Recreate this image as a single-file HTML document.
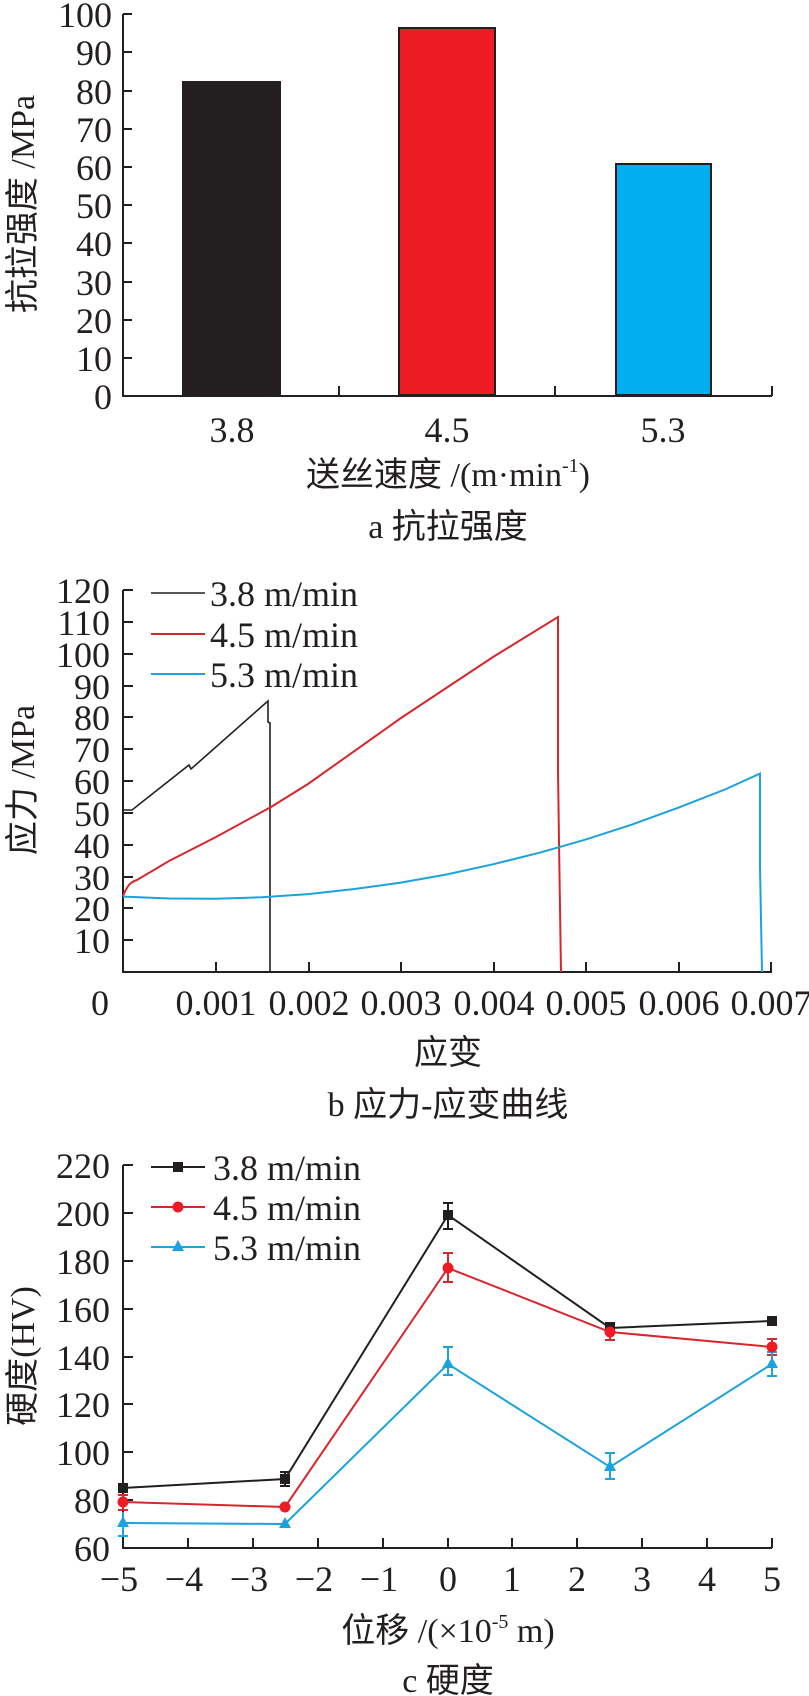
<!DOCTYPE html>
<html><head><meta charset="utf-8"><style>
html,body{margin:0;padding:0;background:#fff}
svg{display:block}
text{font-family:"Liberation Serif","Noto Serif CJK SC",serif;fill:#231f20}
.t{font-size:36px}
.cj{font-family:"Liberation Serif","Noto Sans CJK SC",sans-serif;font-size:34px}
</style></head><body>
<svg width="809" height="1696" viewBox="0 0 809 1696" xmlns="http://www.w3.org/2000/svg">
<g stroke="#231f20" stroke-width="2" fill="none">
<path d="M123,14 V396 H772"/>
<path d="M123,14h9M123,52h9M123,91h9M123,129h9M123,167h9M123,205h9M123,243h9M123,282h9M123,320h9M123,358h9"/>
<path d="M339,396v-10M555,396v-10M772,396v-10"/>
</g>
<rect x="183" y="82" width="97" height="313" fill="#231f20" stroke="#231f20" stroke-width="2"/>
<rect x="399" y="28" width="96" height="367" fill="#ed1c24" stroke="#231f20" stroke-width="2"/>
<rect x="616" y="164" width="95" height="231" fill="#00aeef" stroke="#231f20" stroke-width="2"/>
<g class="t" text-anchor="end">
<text x="112" y="27">100</text><text x="112" y="65">90</text><text x="112" y="104">80</text><text x="112" y="142">70</text><text x="112" y="180">60</text><text x="112" y="218">50</text><text x="112" y="256">40</text><text x="112" y="295">30</text><text x="112" y="333">20</text><text x="112" y="371">10</text><text x="112" y="409">0</text>
</g>
<g class="t" text-anchor="middle">
<text x="232" y="442">3.8</text><text x="447" y="442">4.5</text><text x="663" y="442">5.3</text>
</g>
<text class="cj" x="0" y="0" text-anchor="middle" transform="translate(34,204) rotate(-90)">抗拉强度 /MPa</text>
<text class="cj" x="448" y="486" text-anchor="middle">送丝速度 /(m·min<tspan font-size="20" dy="-14">-1</tspan><tspan dy="14">)</tspan></text>
<text class="cj" x="448" y="538" text-anchor="middle">a 抗拉强度</text>

<g stroke="#231f20" stroke-width="2" fill="none">
<path d="M123,590 V972 H772"/>
<path d="M123,590h10M123,622h10M123,654h10M123,686h10M123,717h10M123,749h10M123,781h10M123,813h10M123,845h10M123,877h10M123,908h10M123,940h10"/>
<path d="M216,972v-10M309,972v-10M401,972v-10M494,972v-10M586,972v-10M679,972v-10M771,972v-10"/>
</g>
<path d="M123,810 L132,810 L189,765 L191,769 L268,701 L268,722 L270,723 L270,972" stroke="#231f20" stroke-width="1.6" fill="none"/>
<path d="M123,896 C128,884 131,882 137,880 L169,861 L216,837 L271,807 L308,784 L401,718 L493,657 L558,617 L558,770 L559,842 L561,972" stroke="#d7262c" stroke-width="2" fill="none"/>
<polyline points="123,896.6 169.3,898.5 215.6,898.7 261.9,897.3 308.2,894.1 354.5,889 400.8,882.6 447.1,874.4 493.4,864.2 539.7,852.7 586,839.4 632.3,824.4 678.6,807.6 724.9,789.5 760,773.6 760,866 762,972" stroke="#1aa3dc" stroke-width="2" fill="none"/>
<g class="t" text-anchor="end">
<text x="110" y="603">120</text><text x="110" y="635">110</text><text x="110" y="667">100</text><text x="110" y="699">90</text><text x="110" y="730">80</text><text x="110" y="762">70</text><text x="110" y="794">60</text><text x="110" y="826">50</text><text x="110" y="858">40</text><text x="110" y="890">30</text><text x="110" y="921">20</text><text x="110" y="953">10</text>
</g>
<g class="t" text-anchor="middle">
<text x="100" y="1015">0</text><text x="216" y="1015">0.001</text><text x="309" y="1015">0.002</text><text x="401" y="1015">0.003</text><text x="494" y="1015">0.004</text><text x="586" y="1015">0.005</text><text x="679" y="1015">0.006</text><text x="771" y="1015">0.007</text>
</g>
<path d="M151,593h54" stroke="#231f20" stroke-width="1.6"/>
<path d="M151,634h54" stroke="#d7262c" stroke-width="2"/>
<path d="M151,674h54" stroke="#1aa3dc" stroke-width="2"/>
<g class="t"><text x="210" y="606">3.8 m/min</text><text x="210" y="647">4.5 m/min</text><text x="210" y="687">5.3 m/min</text></g>
<text class="cj" text-anchor="middle" transform="translate(34,780) rotate(-90)">应力 /MPa</text>
<text class="cj" x="448" y="1064" text-anchor="middle">应变</text>
<text class="cj" x="448" y="1116" text-anchor="middle">b 应力-应变曲线</text>

<g stroke="#231f20" stroke-width="2" fill="none">
<path d="M123,1165 V1548 H772"/>
<path d="M123,1165h10M123,1213h10M123,1261h10M123,1309h10M123,1357h10M123,1404h10M123,1452h10M123,1500h10"/>
<path d="M188,1548v-10M253,1548v-10M318,1548v-10M383,1548v-10M448,1548v-10M512,1548v-10M577,1548v-10M642,1548v-10M707,1548v-10M772,1548v-10"/>
</g>
<g stroke="#231f20" stroke-width="2" fill="none">
<path d="M285,1472v14M280,1472h10M280,1486h10"/>
<path d="M448,1203v26M443,1203h10M443,1229h10"/>
<path d="M610,1323v10M605,1323h10"/>
</g>
<g stroke="#d7262c" stroke-width="2" fill="none">
<path d="M123,1495v15M118,1495h10M118,1510h10"/>
<path d="M448,1253v29M443,1253h10M443,1282h10"/>
<path d="M610,1325v15M605,1340h10"/>
<path d="M772,1339v16M767,1339h10M767,1355h10"/>
</g>
<g stroke="#1aa3dc" stroke-width="2" fill="none">
<path d="M123,1512v24M118,1536h10"/>
<path d="M285,1519v8"/>
<path d="M448,1347v28M443,1347h10M443,1375h10"/>
<path d="M610,1453v26M605,1453h10M605,1479h10"/>
<path d="M772,1352v24M767,1352h10M767,1376h10"/>
</g>
<polyline points="123,1488 285,1479 448,1215 610,1328 772,1321" stroke="#231f20" stroke-width="2" fill="none"/>
<polyline points="123,1502 285,1507 448,1268 610,1332 772,1347" stroke="#d7262c" stroke-width="2" fill="none"/>
<polyline points="123,1523 285,1524 448,1364 610,1467 772,1364" stroke="#1aa3dc" stroke-width="2" fill="none"/>
<g fill="#231f20">
<rect x="118" y="1483" width="10" height="10"/><rect x="280" y="1474" width="10" height="10"/><rect x="443" y="1210" width="10" height="10"/><rect x="605" y="1323" width="10" height="10"/><rect x="767" y="1316" width="10" height="10"/>
</g>
<g fill="#ed1c24">
<circle cx="123" cy="1502" r="5.5"/><circle cx="285" cy="1507" r="5.5"/><circle cx="448" cy="1268" r="5.5"/><circle cx="610" cy="1332" r="5.5"/><circle cx="772" cy="1347" r="5.5"/>
</g>
<g fill="#1aa3dc">
<path d="M123,1516l6,11h-12z"/><path d="M285,1517l6,11h-12z"/><path d="M448,1357l6,11h-12z"/><path d="M610,1460l6,11h-12z"/><path d="M772,1357l6,11h-12z"/>
</g>
<g class="t" text-anchor="end">
<text x="110" y="1178">220</text><text x="110" y="1226">200</text><text x="110" y="1274">180</text><text x="110" y="1322">160</text><text x="110" y="1370">140</text><text x="110" y="1417">120</text><text x="110" y="1465">100</text><text x="110" y="1513">80</text><text x="110" y="1561">60</text>
</g>
<g class="t" text-anchor="middle">
<text x="119" y="1591">−5</text><text x="184" y="1591">−4</text><text x="249" y="1591">−3</text><text x="314" y="1591">−2</text><text x="379" y="1591">−1</text><text x="448" y="1591">0</text><text x="512" y="1591">1</text><text x="577" y="1591">2</text><text x="642" y="1591">3</text><text x="707" y="1591">4</text><text x="772" y="1591">5</text>
</g>
<path d="M151,1167h54" stroke="#231f20" stroke-width="2"/><rect x="173" y="1162" width="10" height="10" fill="#231f20"/>
<path d="M151,1207h54" stroke="#d7262c" stroke-width="2"/><circle cx="178" cy="1207" r="5.5" fill="#ed1c24"/>
<path d="M151,1247h54" stroke="#1aa3dc" stroke-width="2"/><path d="M178,1240l6,11h-12z" fill="#1aa3dc"/>
<g class="t"><text x="213" y="1180">3.8 m/min</text><text x="213" y="1220">4.5 m/min</text><text x="213" y="1260">5.3 m/min</text></g>
<text class="cj" text-anchor="middle" transform="translate(34,1356) rotate(-90)">硬度(HV)</text>
<text class="cj" x="448" y="1642" text-anchor="middle">位移 /(×10<tspan font-size="20" dy="-14">-5</tspan><tspan dy="14"> m)</tspan></text>
<text class="cj" x="448" y="1692" text-anchor="middle">c 硬度</text>
</svg>
</body></html>
